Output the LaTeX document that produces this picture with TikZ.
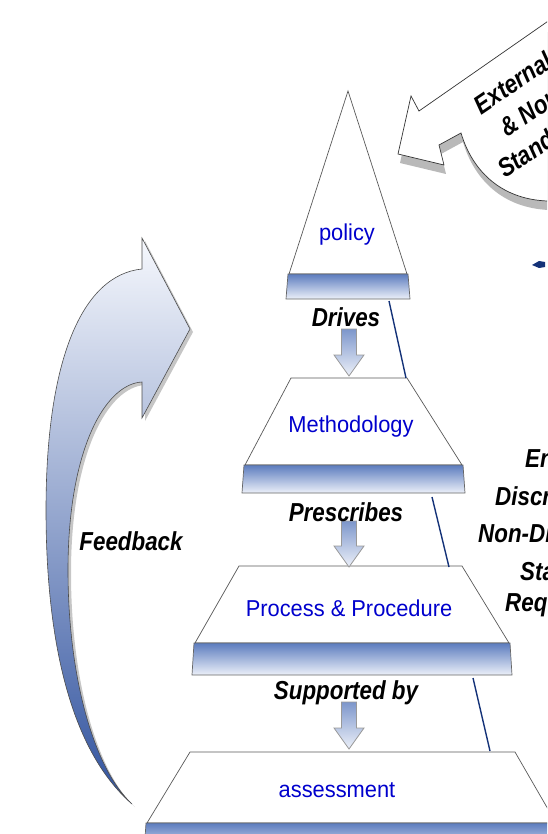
\documentclass[tikz,border=0pt]{standalone}
\usepackage{fontspec}
\setmainfont{Liberation Sans}
\newfontfamily\verbfont[FakeStretch=0.86]{Liberation Sans}
\newfontfamily\layerfont[FakeStretch=0.95]{Liberation Sans}
\usetikzlibrary{arrows.meta}
\definecolor{labelblue}{RGB}{0,0,205}
\definecolor{barblue}{RGB}{92,124,190}
\definecolor{barpale}{RGB}{236,240,249}
\definecolor{linknavy}{RGB}{20,50,120}
\definecolor{fblight}{RGB}{246,248,253}
\definecolor{fbmid}{RGB}{214,224,242}
\definecolor{fbdark}{RGB}{48,82,158}
\tikzset{
  layeredge/.style={draw=black!65, line width=0.7pt, fill=white},
  barshade/.style={draw=black!60, line width=0.7pt, top color=barblue, bottom color=barpale},
  downarrow/.style={draw=gray!80, line width=0.8pt, top color=barblue!80, bottom color=barpale},
  linkline/.style={draw=linknavy, line width=1.4pt},
  layerlabel/.style={text=labelblue, font=\layerfont\fontsize{23}{25}\selectfont},
  verblabel/.style={font=\verbfont\fontsize{26}{28}\selectfont\bfseries\itshape},
}
\begin{document}
\begin{tikzpicture}[x=1pt,y=-1pt]
  \useasboundingbox (0,0) rectangle (547,834);
  \clip (0,0) rectangle (547,834);

  % feedback arrow
  \fill[gray!45, shift={(3,3)}] (142,269) -- (142,238) -- (190,329) -- (142,418) -- (142,382)
    .. controls (105,384) and (68,450) .. (68,570)
    .. controls (68,680) and (95,770) .. (132,804)
    .. controls (70,750) and (46,640) .. (46,510)
    .. controls (46,360) and (82,275) .. (142,269) -- cycle;
  \draw[draw=black!70, line width=0.6pt, top color=fblight, middle color=fbmid, bottom color=fbdark]
    (142,269) -- (142,238) -- (190,329) -- (142,418) -- (142,382)
    .. controls (105,384) and (68,450) .. (68,570)
    .. controls (68,680) and (95,770) .. (132,804)
    .. controls (70,750) and (46,640) .. (46,510)
    .. controls (46,360) and (82,275) .. (142,269) -- cycle;
  \node[verblabel] (feedback) at (131,541) {Feedback};

  % external arrow
  \fill[gray!55, shift={(2,9)}] (600,-15) -- (419,111) -- (411,96) -- (398,154) -- (444,165)
    -- (439,145) -- (461,133) .. controls (472,170) and (500,199) .. (547,201) -- (600,201) -- cycle;
  \draw[draw=black!80, line width=0.7pt, fill=white] (600,-15) -- (419,111) -- (411,96) -- (398,154) -- (444,165)
    -- (439,145) -- (461,133) .. controls (472,170) and (500,199) .. (547,201) -- (600,201) -- cycle;
  \node[verblabel, rotate=34, anchor=base west, align=left, inner sep=0pt,
    font=\verbfont\fontsize{26}{33}\selectfont\bfseries\itshape]
    (external) at (505,179) {\hspace*{16pt}External\\\hspace*{25pt}\& Non\\Standards};
  \fill[linknavy] (532,265) -- (539,261) -- (545,262) -- (545,267) -- (539,268) -- cycle;

  % pyramid layers
  \foreach \ty/\tl/\tr/\by/\bl/\br/\bh/\name in {
      91/348/348/274/289/407/25/pol,
      378/291/407/465/245/462/28/met,
      566/239/462/643/195/509/32/pro,
      752/190/515/823/147/556/30/ass}{
    \draw[layeredge] (\tl,\ty) -- (\tr,\ty) -- (\br,\by) -- (\bl,\by) -- cycle;
    \draw[barshade] (\bl-1,\by) -- (\br+1,\by) -- (\br+3,\by+\bh) -- (\bl-3,\by+\bh) -- cycle;
  }
  \node[layerlabel] (policy) at (347,235) {policy};
  \node[layerlabel] (method) at (351,427) {Methodology};
  \node[layerlabel] (process) at (349,608) {Process \& Procedure};
  \node[layerlabel] (assess) at (337,790) {assessment};

  % links between layers
  \foreach \xa/\ya/\xb/\yb/\name in {
      389/301/406/378/a,
      432/497/449/567/b,
      473/678/490/751/c}{
    \coordinate (link-\name-from) at (\xa,\ya);
    \coordinate (link-\name-to) at (\xb,\yb);
    \draw[linkline] (link-\name-from) -- (link-\name-to);
  }

  % down arrows and verbs
  \foreach \vy/\at/\tip/\vtext/\name in {
      317/329/376/Drives/drives,
      512/521/567/Prescribes/prescribes,
      693/702/749/Supported by/supported}{
    \draw[downarrow] (341.5,\at) -- (356.5,\at) -- (356.5,\tip-21) -- (364,\tip-21)
      -- (349,\tip) -- (334,\tip-21) -- (341.5,\tip-21) -- cycle;
    \node[verblabel] (\name) at (346,\vy) {\vtext};
  }

  % right text
  \foreach \yy/\rtext/\xx/\name in {
      467/Enterprise/525/ra,
      505/Discretionary \&/495/rb,
      542/Non-Discretionary/478/rc,
      580/Standards/520/rd,
      611/Requirements/505/re}{
    \node[verblabel, anchor=base west, inner sep=0pt] (right-\name) at (\xx,\yy) {\rtext};
  }
\end{tikzpicture}
\end{document}
